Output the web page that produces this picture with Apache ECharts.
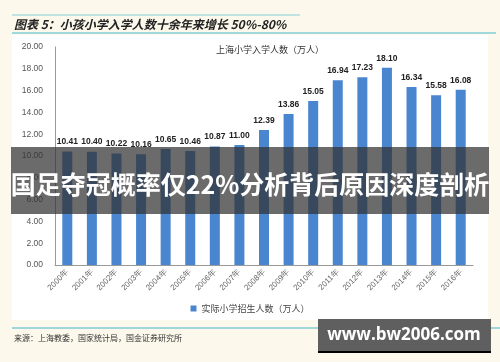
<!DOCTYPE html>
<html><head><meta charset="utf-8">
<script src="https://cdn.jsdelivr.net/npm/echarts@6/dist/echarts.min.js"></script>
<style>html,body{margin:0;padding:0;background:#fdf8ec;}#c{width:500px;height:362px;}</style>
</head><body><div id="c"></div>
<script>
const categories = ['2000年','2001年','2002年','2003年','2004年','2005年','2006年','2007年','2008年','2009年','2010年','2011年','2012年','2013年','2014年','2015年','2016年'];
const enrollment = [10.41,10.40,10.22,10.16,10.65,10.46,10.87,11.00,12.39,13.86,15.05,16.94,17.23,18.10,16.34,15.58,16.08];
const seriesName = '实际小学招生人数（万人）';
const chartTitle = '上海小学入学人数（万人）';
const figTitle = '图表 5：小孩小学入学人数十余年来增长 50%-80%';
const sourceText = '来源：上海教委，国家统计局，国金证券研究所';
const bannerText = '国足夺冠概率仅22%分析背后原因深度剖析';
const watermark = 'www.bw2006.com';

const chart = echarts.init(document.getElementById('c'));
chart.setOption({
  backgroundColor: '#fdf8ec',
  animation: false,
  title: {
    text: chartTitle, left: 265, top: 40, textAlign: 'center',
    textStyle: {fontSize: 9, fontWeight: 'normal', color: '#333', fontFamily: 'Noto Sans CJK SC'}
  },
  legend: {
    data: [seriesName], bottom: 44, left: 'center', itemWidth: 6, itemHeight: 6, itemGap: 3,
    icon: 'rect',
    textStyle: {fontSize: 9, color: '#444', fontFamily: 'Noto Sans CJK SC'}
  },
  grid: {left: 55, right: 27, top: 47, bottom: 97},
  xAxis: {
    type: 'category', data: categories,
    axisLine: {lineStyle: {color: '#999'}},
    axisTick: {show: false},
    axisLabel: {rotate: 45, fontSize: 8, color: '#666', margin: 6, interval: 0}
  },
  yAxis: {
    type: 'value', min: 0, max: 20, interval: 2,
    axisLine: {show: true, lineStyle: {color: '#999'}},
    axisTick: {show: false},
    splitLine: {show: false},
    axisLabel: {fontSize: 8.5, color: '#555', margin: 12, formatter: v => v.toFixed(2)}
  },
  series: [{
    name: seriesName, type: 'bar', data: enrollment, barWidth: 10,
    itemStyle: {color: '#4a86cf'},
    label: {show: true, position: 'top', distance: 5, fontSize: 8.5, fontWeight: 'bold', color: '#222',
      formatter: p => p.value.toFixed(2)}
  }],
  graphic: [
    {type: 'rect', z: -10, shape: {x: 12, y: 35, width: 476, height: 285}, style: {fill: '#ffffff'}},
    {type: 'line', shape: {x1: 12, y1: 15, x2: 300, y2: 15}, style: {stroke: '#7fcfd6', lineWidth: 1}},
    {type: 'line', shape: {x1: 12, y1: 33, x2: 496, y2: 33}, style: {stroke: '#7fcfd6', lineWidth: 1.5}},
    {type: 'text', x: 14, y: 24, style: {text: figTitle, font: 'italic bold 12px "Noto Sans CJK SC"', fill: '#222', verticalAlign: 'middle'}},
    {type: 'line', shape: {x1: 12, y1: 328, x2: 500, y2: 328}, style: {stroke: '#9fd6da', lineWidth: 2}},
    {type: 'text', x: 14, y: 338, style: {text: sourceText, font: '8px "Noto Sans CJK SC"', fill: '#333', verticalAlign: 'middle'}},
    {type: 'rect', z: 100, shape: {x: 11, y: 147, width: 478, height: 67}, style: {fill: 'rgba(50,50,50,0.72)'}},
    {type: 'text', z: 101, x: 250, y: 184, style: {text: bannerText, font: 'bold 25px "Noto Sans CJK SC"', fill: '#ffffff', align: 'center', verticalAlign: 'middle'}},
    {type: 'rect', z: 100, shape: {x: 318, y: 319, width: 173, height: 32}, style: {fill: '#5f5f5f'}},
    {type: 'rect', z: 100, shape: {x: 318, y: 351, width: 173, height: 2}, style: {fill: '#000'}},
    {type: 'text', z: 101, x: 404, y: 335, style: {text: watermark, font: 'bold 17px "Open Sans"', fill: '#ffffff', align: 'center', verticalAlign: 'middle'}}
  ]
});
</script></body></html>
